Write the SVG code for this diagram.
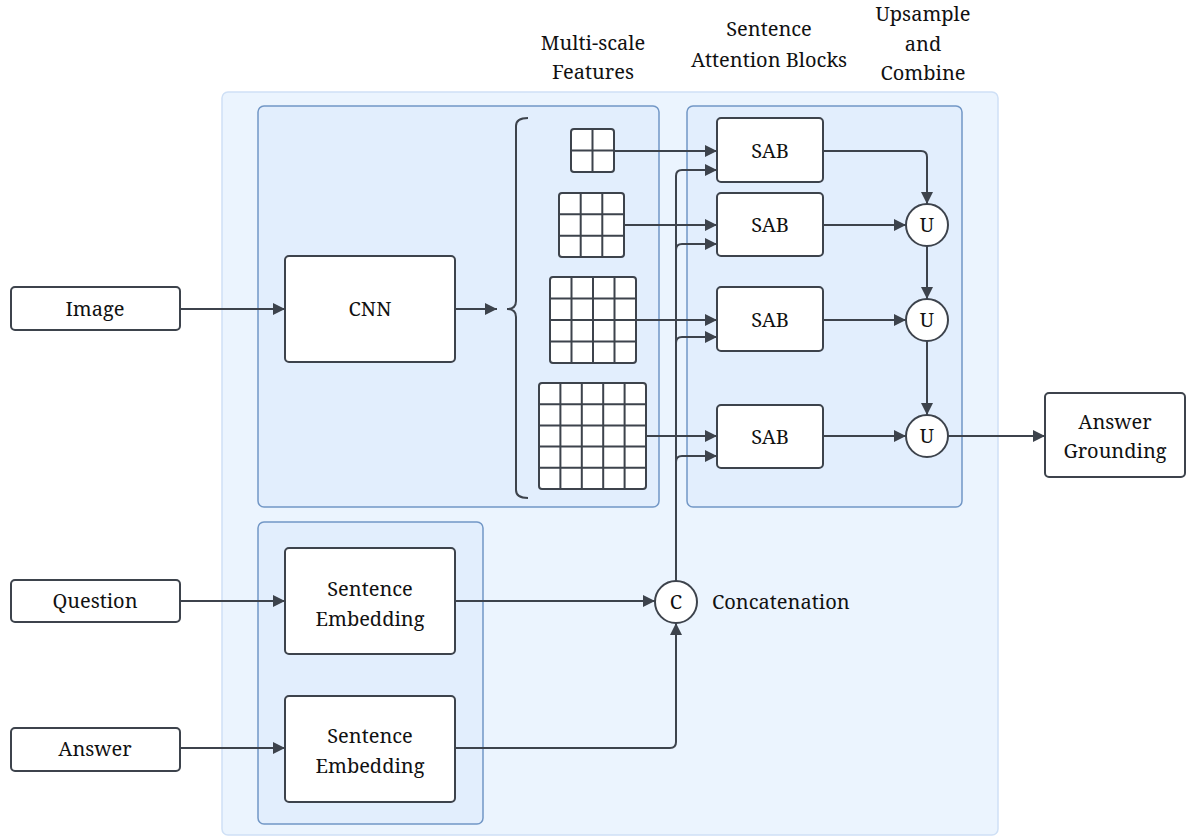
<svg xmlns="http://www.w3.org/2000/svg" width="1189" height="837" viewBox="0 0 1189 837">
<defs>
<style>
.outer{fill:#ebf4fe;stroke:#cfe0f6;stroke-width:1.5}
.cont{fill:#e2eefd;stroke:#7297c6;stroke-width:1.5}
.node{fill:#fff;stroke:#3d434c;stroke-width:2}
.grid{fill:#fff;stroke:#3d434c;stroke-width:2}
.gl{stroke:#3d434c;stroke-width:2}
.edge{fill:none;stroke:#3d434c;stroke-width:2}
text{font-family:"Noto Serif","Liberation Serif","DejaVu Serif",serif;font-size:20px;fill:#111;text-anchor:middle}
</style>
<marker id="ah" viewBox="0 0 12 12" refX="12" refY="6" markerWidth="12" markerHeight="12" markerUnits="userSpaceOnUse" orient="auto">
<path d="M0,0 L12,6 L0,12 Z" fill="#3d434c"/>
</marker>
</defs>
<rect width="1189" height="837" fill="#fff"/>
<g id="containers">
<rect class="outer" x="222" y="92" width="776" height="743" rx="6"/>
<rect class="cont" x="258" y="106" width="401" height="401" rx="6"/>
<rect class="cont" x="687" y="106" width="275" height="401" rx="6"/>
<rect class="cont" x="258" y="522" width="225" height="302" rx="6"/>
</g>
<g id="headers">
<text x="593" y="50">Multi-scale</text>
<text x="593" y="79">Features</text>
<text x="769" y="36">Sentence</text>
<text x="769" y="67">Attention Blocks</text>
<text x="923" y="21">Upsample</text>
<text x="923" y="51">and</text>
<text x="923" y="80">Combine</text>
</g>
<g id="connectors">
<path class="edge" d="M180,309 H285" marker-end="url(#ah)"/>
<path class="edge" d="M455,309 H497" marker-end="url(#ah)"/>
<path class="edge" d="M614,151 H717" marker-end="url(#ah)"/>
<path class="edge" d="M624,225 H717" marker-end="url(#ah)"/>
<path class="edge" d="M636,320 H717" marker-end="url(#ah)"/>
<path class="edge" d="M646,436 H717" marker-end="url(#ah)"/>
<path class="edge" d="M676,581 V462 q0,-6 6,-6 H717" marker-end="url(#ah)"/>
<path class="edge" d="M676,462 V343 q0,-6 6,-6 H717" marker-end="url(#ah)"/>
<path class="edge" d="M676,343 V250 q0,-6 6,-6 H717" marker-end="url(#ah)"/>
<path class="edge" d="M676,250 V176 q0,-6 6,-6 H717" marker-end="url(#ah)"/>
<path class="edge" d="M823,151 H921 q6,0 6,6 V204" marker-end="url(#ah)"/>
<path class="edge" d="M823,225 H906" marker-end="url(#ah)"/>
<path class="edge" d="M823,320 H906" marker-end="url(#ah)"/>
<path class="edge" d="M823,436 H906" marker-end="url(#ah)"/>
<path class="edge" d="M927,246 V299" marker-end="url(#ah)"/>
<path class="edge" d="M927,341 V415" marker-end="url(#ah)"/>
<path class="edge" d="M948,436 H1045" marker-end="url(#ah)"/>
<path class="edge" d="M180,601 H285" marker-end="url(#ah)"/>
<path class="edge" d="M180,748 H285" marker-end="url(#ah)"/>
<path class="edge" d="M455,601 H655" marker-end="url(#ah)"/>
<path class="edge" d="M455,748 H670 q6,0 6,-6 V623" marker-end="url(#ah)"/>
</g>
<g id="image"><rect class="node" x="11" y="287" width="169" height="43" rx="4"/><text x="95" y="316">Image</text></g>
<g id="question"><rect class="node" x="11" y="580" width="169" height="42" rx="4"/><text x="95" y="608">Question</text></g>
<g id="answer"><rect class="node" x="11" y="728" width="169" height="43" rx="4"/><text x="95" y="756">Answer</text></g>
<g id="cnn"><rect class="node" x="285" y="256" width="170" height="106" rx="4"/><text x="370" y="316">CNN</text></g>
<g id="se1"><rect class="node" x="285" y="548" width="170" height="106" rx="4"/><text x="370" y="596">Sentence</text><text x="370" y="626">Embedding</text></g>
<g id="se2"><rect class="node" x="285" y="696" width="170" height="106" rx="4"/><text x="370" y="743">Sentence</text><text x="370" y="773">Embedding</text></g>
<g id="brace"><path class="edge" d="M528,118 Q516,118 516,126 V301 Q516,309 507,309 Q516,309 516,317 V490 Q516,498 528,498"/></g>
<g id="grid1"><rect class="grid" x="571" y="129" width="43" height="43" rx="3"/><path class="gl" d="M592.5,129V172M571,150.5H614"/></g>
<g id="grid2"><rect class="grid" x="559" y="193" width="65" height="64" rx="3"/><path class="gl" d="M580.7,193V257M602.3,193V257M559,214.3H624M559,235.7H624"/></g>
<g id="grid3"><rect class="grid" x="550" y="277" width="86" height="86" rx="3"/><path class="gl" d="M571.5,277V363M593,277V363M614.5,277V363M550,298.5H636M550,320H636M550,341.5H636"/></g>
<g id="grid4"><rect class="grid" x="539" y="383" width="107" height="106" rx="3"/><path class="gl" d="M560.4,383V489M581.8,383V489M603.2,383V489M624.6,383V489M539,404.2H646M539,425.4H646M539,446.6H646M539,467.8H646"/></g>
<g id="sab1"><rect class="node" x="717" y="118" width="106" height="64" rx="4"/><text x="770" y="158">SAB</text></g>
<g id="sab2"><rect class="node" x="717" y="193" width="106" height="63" rx="4"/><text x="770" y="232">SAB</text></g>
<g id="sab3"><rect class="node" x="717" y="287" width="106" height="64" rx="4"/><text x="770" y="327">SAB</text></g>
<g id="sab4"><rect class="node" x="717" y="405" width="106" height="63" rx="4"/><text x="770" y="444">SAB</text></g>
<g id="u1"><circle class="node" cx="927" cy="225" r="21"/><text x="927" y="232">U</text></g>
<g id="u2"><circle class="node" cx="927" cy="320" r="21"/><text x="927" y="327">U</text></g>
<g id="u3"><circle class="node" cx="927" cy="436" r="21"/><text x="927" y="443">U</text></g>
<g id="concat"><circle class="node" cx="676" cy="602" r="21"/><text x="676" y="609">C</text><text x="712" y="609" style="text-anchor:start">Concatenation</text></g>
<g id="grounding"><rect class="node" x="1045" y="393" width="140" height="84" rx="4"/><text x="1115" y="429">Answer</text><text x="1115" y="458">Grounding</text></g>
</svg>
